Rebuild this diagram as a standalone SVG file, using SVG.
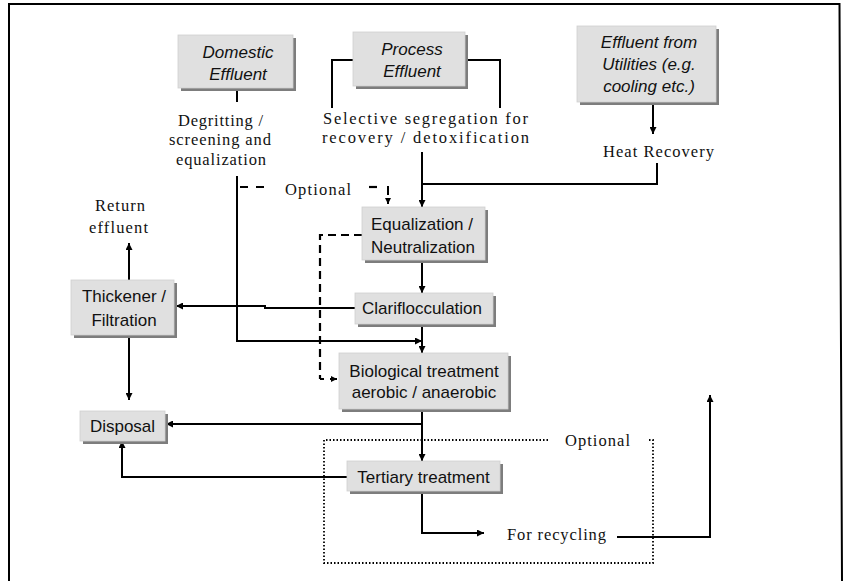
<svg xmlns="http://www.w3.org/2000/svg" width="844" height="581" viewBox="0 0 844 581">
  <defs>
    <marker id="arrow" markerUnits="userSpaceOnUse" markerWidth="8" markerHeight="7" refX="7" refY="3.5" orient="auto">
      <path d="M0,0 L7,3.5 L0,7 z" fill="#000"/>
    </marker>
    <marker id="arrowSmall" markerUnits="userSpaceOnUse" markerWidth="7" markerHeight="6" refX="6" refY="3" orient="auto">
      <path d="M0,0 L6,3 L0,6 z" fill="#000"/>
    </marker>
  </defs>
  <style>
    .box { fill: #e0e0e0; stroke: #cfcfcf; stroke-width: 0.8; }
    .shadow { fill: #7d7d7d; }
    .sans { font-family: "Liberation Sans", Arial, sans-serif; font-size: 17px; fill: #111; text-anchor: middle; }
    .it { font-style: italic; }
    .serif { font-family: "Liberation Serif", "Times New Roman", serif; font-size: 16.5px; fill: #111; text-anchor: middle; }
    .line { fill: none; stroke: #000; stroke-width: 2; }
    .arr { marker-end: url(#arrow); }
    .dash { fill: none; stroke: #000; stroke-width: 2.2; stroke-dasharray: 8 5; }
    .dot { fill: none; stroke: #000; stroke-width: 1.8; stroke-dasharray: 1.5 2; }
    .frame { fill: none; stroke: #000; stroke-width: 2; }
  </style>

  <rect width="844" height="581" fill="#fff"/>

  <!-- outer frame (open at the bottom) -->
  <path class="frame" d="M9,581 V4 H839.5 L842,581"/>

  <!-- connectors -->
  <g id="connectors">
    <!-- domestic effluent stub and pre-treatment run -->
    <path class="line" d="M237,89 V102"/>
    <path class="line arr" d="M237,176 V341 H422"/>

    <!-- process effluent brackets -->
    <path class="line" d="M353,60 H332 V108"/>
    <path class="line" d="M466,60 H500 V108"/>

    <!-- segregation to equalization -->
    <path class="line arr" d="M422,152 V207"/>

    <!-- utilities to heat recovery, heat recovery to equalization feed -->
    <path class="line arr" d="M653,103 V134"/>
    <path class="line" d="M657,163 V184 H422"/>

    <!-- optional bypass to equalization -->
    <path class="dash" d="M240,187 H252 M256,187 H266"/>
    <path class="dash" d="M369,187 H381"/>
    <path class="line" d="M388,186 V195" stroke-width="2.2"/>
    <path class="line" d="M388,199 V204" stroke-width="2.2" marker-end="url(#arrowSmall)"/>

    <!-- optional bypass from equalization to biological -->
    <path class="dash" d="M362,235 H320 V379"/>
    <path class="line" d="M320,379 H324" stroke-width="2"/>
    <path class="line" d="M330,379 H337" stroke-width="2" marker-end="url(#arrowSmall)"/>

    <!-- main treatment chain -->
    <path class="line arr" d="M422,261 V293"/>
    <path class="line arr" d="M422,325 V353"/>
    <path class="line arr" d="M422,410 V461"/>

    <!-- sludge to thickener -->
    <path class="line arr" d="M355,308 H265 V306 H176"/>

    <!-- thickener outputs -->
    <path class="line arr" d="M129,280 V243"/>
    <path class="line arr" d="M129,336 V400"/>

    <!-- to disposal -->
    <path class="line arr" d="M422,424 H166"/>
    <path class="line arr" d="M347,477 H122 V441"/>

    <!-- recycling -->
    <path class="line arr" d="M422,492 V533 H484"/>
    <path class="line arr" d="M617,537 H710 V395"/>

    <!-- optional tertiary envelope -->
    <path class="dot" d="M548,440 H324 V563 H653 V440 H647"/>
  </g>

  <!-- source nodes -->
  <g id="domestic-effluent">
    <rect class="shadow" x="181" y="38" width="115" height="53"/>
    <rect class="box" x="178" y="35" width="115" height="53"/>
    <text class="sans it" x="238" y="58">Domestic</text>
    <text class="sans it" x="238" y="80">Effluent</text>
  </g>

  <g id="process-effluent">
    <rect class="shadow" x="356" y="35" width="112" height="54"/>
    <rect class="box" x="353" y="32" width="112" height="54"/>
    <text class="sans it" x="412" y="55">Process</text>
    <text class="sans it" x="412" y="77">Effluent</text>
  </g>

  <g id="utilities-effluent">
    <rect class="shadow" x="580" y="29" width="139" height="76"/>
    <rect class="box" x="577" y="26" width="139" height="76"/>
    <text class="sans it" x="649" y="48">Effluent from</text>
    <text class="sans it" x="649" y="70">Utilities (e.g.</text>
    <text class="sans it" x="649" y="92">cooling etc.)</text>
  </g>

  <!-- step labels -->
  <g id="pretreatment-label">
    <text class="serif" x="220.5" y="126" textLength="85" lengthAdjust="spacing">Degritting /</text>
    <text class="serif" x="220" y="145" textLength="102" lengthAdjust="spacing">screening and</text>
    <text class="serif" x="221" y="165" textLength="90" lengthAdjust="spacing">equalization</text>
  </g>

  <g id="segregation-label">
    <text class="serif" x="425.5" y="124" textLength="205" lengthAdjust="spacing">Selective segregation for</text>
    <text class="serif" x="425.5" y="143" textLength="207" lengthAdjust="spacing">recovery / detoxification</text>
  </g>

  <g id="heat-recovery">
    <text class="serif" x="658.5" y="157" textLength="111" lengthAdjust="spacing">Heat Recovery</text>
  </g>

  <g id="optional-bypass-label">
    <text class="serif" x="318" y="195" textLength="66" lengthAdjust="spacing">Optional</text>
  </g>

  <g id="return-effluent">
    <text class="serif" x="120" y="211" textLength="50" lengthAdjust="spacing">Return</text>
    <text class="serif" x="118.5" y="233" textLength="59" lengthAdjust="spacing">effluent</text>
  </g>

  <!-- process nodes -->
  <g id="equalization">
    <rect class="shadow" x="365" y="210" width="123" height="53"/>
    <rect class="box" x="362" y="207" width="123" height="53"/>
    <text class="sans" x="422" y="230">Equalization /</text>
    <text class="sans" x="423" y="253">Neutralization</text>
  </g>

  <g id="clariflocculation">
    <rect class="shadow" x="358" y="296" width="138" height="31"/>
    <rect class="box" x="355" y="293" width="138" height="31"/>
    <text class="sans" x="422" y="314">Clariflocculation</text>
  </g>

  <g id="thickener">
    <rect class="shadow" x="74" y="283" width="103" height="55"/>
    <rect class="box" x="71" y="280" width="103" height="55"/>
    <text class="sans" x="124" y="302">Thickener /</text>
    <text class="sans" x="124" y="326">Filtration</text>
  </g>

  <g id="biological">
    <rect class="shadow" x="342" y="356" width="169" height="56"/>
    <rect class="box" x="339" y="353" width="169" height="56"/>
    <text class="sans" x="424" y="377">Biological treatment</text>
    <text class="sans" x="424" y="398">aerobic / anaerobic</text>
  </g>

  <g id="disposal">
    <rect class="shadow" x="83" y="414" width="85" height="30"/>
    <rect class="box" x="80" y="411" width="85" height="30"/>
    <text class="sans" x="122.5" y="432">Disposal</text>
  </g>

  <g id="tertiary">
    <rect class="shadow" x="350" y="464" width="153" height="30"/>
    <rect class="box" x="347" y="461" width="153" height="30"/>
    <text class="sans" x="423.5" y="483">Tertiary treatment</text>
  </g>

  <g id="optional-tertiary-label">
    <text class="serif" x="597.5" y="446" textLength="65" lengthAdjust="spacing">Optional</text>
  </g>

  <g id="recycling">
    <text class="serif" x="556.5" y="540" textLength="99" lengthAdjust="spacing">For recycling</text>
  </g>
</svg>
